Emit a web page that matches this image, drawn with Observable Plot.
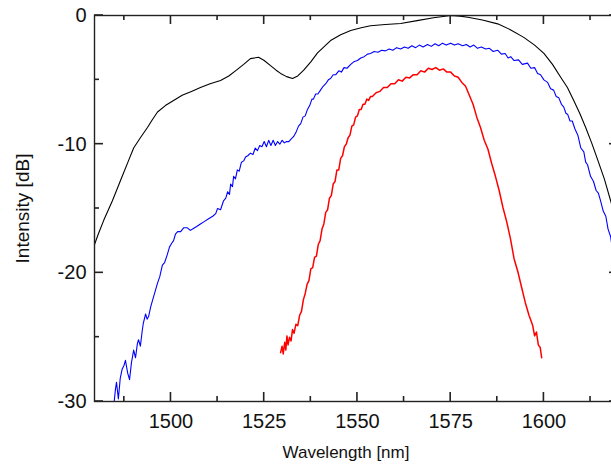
<!DOCTYPE html>
<html><head><meta charset="utf-8">
<script src="https://cdn.jsdelivr.net/npm/d3@7"></script>
<script src="https://cdn.jsdelivr.net/npm/@observablehq/plot@0.6"></script>
<style>
html,body{margin:0;padding:0;overflow:hidden;background:#fff;width:611px;height:466px}
#chart svg{display:block;max-width:none !important}
</style></head><body><div id="chart"></div>
<script>
const blackWl = [1479.5,1480.5,1482.0,1484.3,1486.5,1488.6,1490.0,1491.8,1493.7,1495.0,1496.4,1498.5,1500.7,1503.0,1505.5,1507.9,1510.5,1513.3,1515.5,1517.3,1519.5,1521.3,1523.5,1525.0,1526.7,1528.2,1529.4,1531.0,1532.6,1534.0,1535.6,1537.5,1539.3,1542.8,1545.5,1548.2,1551.0,1553.5,1557.5,1561.6,1566.0,1570.4,1573.0,1575.0,1577.5,1579.6,1583.5,1587.6,1591.0,1594.6,1597.5,1600.0,1602.3,1604.5,1606.3,1608.0,1609.6,1611.2,1612.8,1614.4,1616.2,1617.9,1620.0];
const blackDb = [-17.8,-17.0,-15.9,-14.4,-12.8,-11.3,-10.3,-9.5,-8.7,-8.1,-7.5,-7.0,-6.6,-6.2,-5.9,-5.6,-5.3,-5.05,-4.7,-4.3,-3.8,-3.35,-3.25,-3.5,-3.9,-4.25,-4.5,-4.75,-4.9,-4.7,-4.25,-3.6,-2.9,-1.95,-1.5,-1.17,-0.95,-0.8,-0.7,-0.62,-0.4,-0.18,-0.08,0.0,-0.05,-0.13,-0.35,-0.65,-1.1,-1.7,-2.3,-2.95,-3.8,-4.8,-5.6,-6.6,-7.6,-8.7,-9.9,-11.2,-12.7,-14.4,-16.6];

const blueWl = [1484.6,1485.1,1485.4,1485.9,1486.4,1486.9,1487.4,1487.8,1488.4,1488.9,1489.4,1490.0,1490.5,1491.0,1491.3,1491.8,1492.3,1492.6,1493.2,1493.6,1494.0,1494.6,1495.1,1495.7,1496.4,1497.0,1497.7,1498.3,1499.0,1499.6,1500.2,1500.7,1501.2,1501.8,1502.6,1503.4,1504.4,1505.2,1505.8,1506.9,1507.9,1509.0,1510.1,1511.2,1512.0,1512.5,1513.3,1514.1,1514.7,1515.2,1515.7,1516.0,1516.5,1516.8,1517.3,1517.8,1518.3,1518.9,1519.5,1520.0,1520.6,1521.3,1522.0,1522.6,1523.2,1523.8,1524.4,1525.0,1525.6,1526.2,1526.8,1527.4,1528.0,1528.6,1529.2,1529.8,1530.4,1531.0,1531.6,1532.2,1532.9,1533.5,1534.2,1534.8,1535.4,1536.0,1536.6,1537.2,1537.8,1538.2,1538.8,1539.4,1540.1,1540.8,1541.5,1542.2,1542.8,1543.5,1544.2,1545.0,1545.7,1546.4,1547.2,1548.2,1549.0,1550.0,1550.9,1551.8,1552.7,1553.5,1554.5,1555.5,1556.5,1557.5,1558.5,1559.5,1560.5,1561.6,1562.6,1563.6,1564.6,1565.6,1566.6,1567.6,1568.8,1569.8,1570.8,1571.8,1572.8,1573.8,1575.0,1576.0,1577.0,1578.2,1579.2,1580.2,1581.2,1582.2,1583.2,1584.4,1585.4,1586.4,1587.6,1588.6,1589.6,1590.4,1591.1,1592.0,1593.2,1594.2,1595.6,1596.5,1597.5,1598.3,1599.1,1600.0,1601.0,1601.8,1602.6,1603.3,1604.0,1604.7,1605.3,1605.9,1606.4,1607.0,1607.6,1608.3,1609.1,1609.9,1610.7,1611.2,1611.7,1612.5,1613.3,1614.0,1614.6,1615.2,1615.9,1616.6,1617.2,1617.9,1618.6,1619.3,1620.0];
const blueDb = [-30.5,-29.1,-28.5,-29.8,-28.2,-27.5,-27.2,-26.8,-27.8,-28.3,-27.0,-26.0,-26.6,-25.5,-25.2,-25.7,-24.5,-23.9,-23.2,-23.6,-23.4,-22.6,-22.1,-21.5,-20.8,-20.3,-19.4,-19.2,-18.6,-18.0,-17.7,-17.5,-17.0,-16.8,-16.8,-16.5,-16.5,-16.7,-16.6,-16.4,-16.2,-16.0,-15.8,-15.6,-15.4,-15.0,-15.1,-14.4,-14.2,-13.7,-13.9,-13.1,-13.3,-12.5,-12.7,-12.0,-12.1,-11.4,-11.3,-11.0,-10.9,-10.7,-10.8,-10.3,-10.5,-10.1,-10.2,-9.8,-10.2,-9.7,-10.1,-9.7,-10.1,-9.8,-10.0,-9.7,-9.9,-9.8,-9.8,-9.6,-9.4,-9.1,-8.6,-8.4,-7.9,-7.8,-7.3,-7.0,-6.5,-6.5,-6.1,-6.1,-5.8,-5.5,-5.3,-5.0,-4.9,-4.6,-4.6,-4.3,-4.4,-4.05,-4.1,-3.8,-3.6,-3.5,-3.3,-3.2,-3.0,-2.95,-2.8,-2.85,-2.7,-2.75,-2.6,-2.7,-2.5,-2.6,-2.45,-2.55,-2.35,-2.5,-2.3,-2.45,-2.25,-2.4,-2.2,-2.35,-2.15,-2.3,-2.15,-2.3,-2.2,-2.35,-2.25,-2.45,-2.3,-2.55,-2.45,-2.6,-2.55,-2.8,-2.7,-3.0,-2.95,-3.3,-3.2,-3.5,-3.45,-3.8,-3.7,-4.1,-4.05,-4.5,-4.6,-5.0,-5.2,-5.7,-5.8,-6.3,-6.4,-6.9,-7.1,-7.6,-7.7,-8.2,-8.2,-8.8,-9.3,-10.3,-10.6,-11.4,-11.6,-12.5,-12.9,-13.6,-13.8,-14.4,-15.2,-15.6,-16.6,-17.2,-18.6,-19.6,-20.6];

const redWl = [1529.4,1529.8,1530.1,1530.5,1530.8,1531.1,1531.4,1531.8,1532.2,1532.6,1533.0,1533.5,1534.0,1534.5,1535.0,1535.5,1536.0,1536.5,1537.0,1537.5,1538.0,1538.5,1539.0,1539.5,1540.0,1540.5,1541.0,1541.5,1542.0,1542.5,1543.0,1543.5,1544.0,1544.5,1545.0,1545.5,1546.0,1546.5,1547.0,1547.5,1548.0,1548.5,1549.0,1549.5,1550.0,1550.5,1551.0,1551.5,1552.0,1552.5,1553.0,1553.5,1554.0,1555.0,1556.0,1557.0,1558.0,1559.0,1560.0,1561.0,1562.0,1563.0,1564.0,1565.0,1566.0,1567.0,1568.0,1569.0,1570.0,1571.0,1572.0,1573.0,1574.0,1575.0,1576.0,1577.0,1578.0,1579.0,1580.0,1581.0,1582.0,1583.0,1584.0,1585.0,1586.0,1587.0,1588.0,1589.0,1590.0,1591.0,1592.0,1593.0,1594.0,1595.0,1596.0,1597.0,1597.5,1598.0,1598.5,1599.0,1599.4];
const redDb = [-26.2,-25.7,-26.3,-25.4,-26.0,-24.9,-25.6,-25.0,-25.3,-24.4,-24.7,-24.0,-24.1,-23.3,-23.0,-22.1,-21.6,-20.9,-20.6,-19.7,-19.6,-18.8,-18.7,-17.8,-17.5,-16.6,-16.2,-15.3,-15.1,-14.2,-14.0,-13.1,-12.9,-12.0,-12.0,-11.1,-10.9,-10.2,-10.0,-9.5,-9.3,-8.6,-8.5,-7.9,-7.8,-7.3,-7.3,-6.9,-6.9,-6.5,-6.6,-6.3,-6.3,-6.0,-5.9,-5.6,-5.6,-5.3,-5.3,-5.0,-5.1,-4.8,-4.85,-4.6,-4.6,-4.3,-4.4,-4.1,-4.2,-4.05,-4.25,-4.15,-4.4,-4.4,-4.7,-4.8,-5.2,-5.5,-6.2,-6.9,-7.9,-8.7,-9.7,-10.4,-11.5,-12.5,-13.6,-14.9,-16.0,-17.3,-18.9,-19.9,-21.1,-22.3,-23.3,-24.1,-24.9,-24.6,-25.6,-25.8,-26.6];

const xMajor = [1500, 1525, 1550, 1575, 1600];
const xMinor = [1487.5, 1512.5, 1537.5, 1562.5, 1587.5, 1612.5];
const yMajor = [0, -10, -20, -30];
const yMinor = [-5, -15, -25];
const xTitle = "Wavelength [nm]";
const yTitle = "Intensity [dB]";

const xDomain = [1479.5, 1620], yDomain = [-30, 0];
const rows = (w, d) => w.map((x, i) => ({x, y: d[i]}));
const axisColor = "#222";
const W = 640, H = 466, mL = 94, mR = 22, mT = 15, mB = 65;
const majorPx = 9, minorPx = 5, tw = 1.6;

const chart = Plot.plot({
  width: W, height: H,
  marginLeft: mL, marginRight: mR, marginTop: mT, marginBottom: mB,
  style: {fontFamily: "'Liberation Sans', Arial, sans-serif", fontSize: "20px", background: "#fff", color: "#111"},
  x: {domain: xDomain, axis: null},
  y: {domain: yDomain, axis: null},
  marks: [
    Plot.line(rows(blackWl, blackDb), {x: "x", y: "y", stroke: "#000", strokeWidth: 1.1, clip: true}),
    Plot.line(rows(blueWl, blueDb), {x: "x", y: "y", stroke: "#0000ff", strokeWidth: 1.1, clip: true}),
    Plot.line(rows(redWl, redDb), {x: "x", y: "y", stroke: "#ff0000", strokeWidth: 1.5, clip: true}),
    Plot.frame({stroke: axisColor, strokeWidth: 1.4}),
    Plot.axisX({anchor: "bottom", ticks: xMajor, tickSize: 0, tickPadding: 12, tickFormat: d => String(d), label: null, fontSize: 20, fill: "#111"}),
    Plot.axisY({anchor: "left", ticks: yMajor, tickSize: 0, tickPadding: 8, tickFormat: d => String(d), label: null, fontSize: 20, fill: "#111"}),
    Plot.text([xTitle], {text: d => d, frameAnchor: "bottom", lineAnchor: "top", textAnchor: "middle", dy: 44, dx: -10.5, fontSize: 17, fill: "#111"}),
    Plot.text([yTitle], {text: d => d, frameAnchor: "left", rotate: -90, lineAnchor: "middle", textAnchor: "middle", dx: -72, fontSize: 19, fill: "#111"})
  ]
});

// Inward tick marks as small filled rects, placed with the chart's own scales
const sx = chart.scale("x"), sy = chart.scale("y");
const X = v => sx.apply(v), Y = v => sy.apply(v);
const x0 = X(xDomain[0]), x1 = X(xDomain[1]), y0 = Y(yDomain[0]), y1 = Y(yDomain[1]);
const gT = d3.select(chart).append("g").attr("fill", axisColor).attr("stroke", "none");
for (const [vals, len] of [[xMajor, majorPx], [xMinor, minorPx]]) {
  gT.selectAll(null).data(vals).join("rect")
    .attr("x", d => X(d) - tw / 2).attr("width", tw).attr("y", y0 - len).attr("height", len);
  gT.selectAll(null).data(vals).join("rect")
    .attr("x", d => X(d) - tw / 2).attr("width", tw).attr("y", y1).attr("height", len);
}
for (const [vals, len] of [[yMajor, majorPx], [yMinor, minorPx]]) {
  gT.selectAll(null).data(vals).join("rect")
    .attr("y", d => Y(d) - tw / 2).attr("height", tw).attr("x", x0).attr("width", len);
  gT.selectAll(null).data(vals).join("rect")
    .attr("y", d => Y(d) - tw / 2).attr("height", tw).attr("x", x1 - len).attr("width", len);
}
document.getElementById("chart").append(chart);
</script></body></html>
